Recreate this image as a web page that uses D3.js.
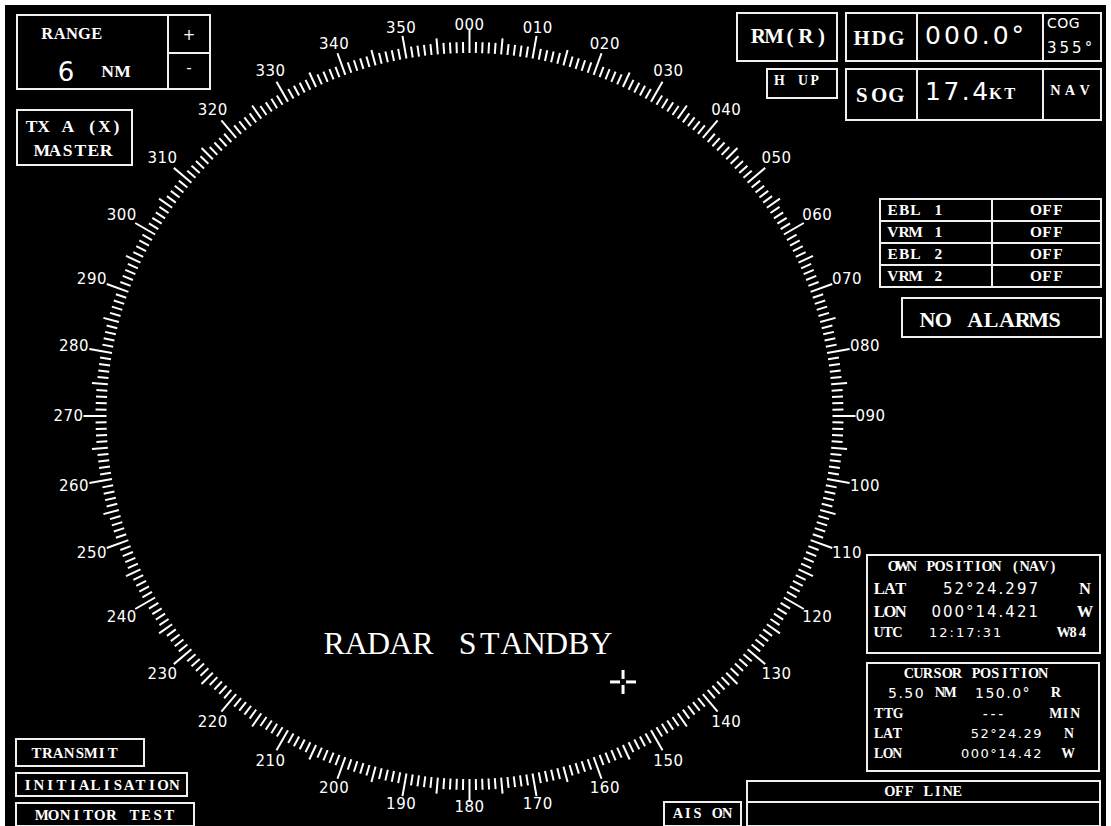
<!DOCTYPE html>
<html>
<head>
<meta charset="utf-8">
<title>Radar standby</title>
<script src="https://d3js.org/d3.v7.min.js"></script>
<style>
  body { margin: 0; background: #fff; }
  .box { fill: none; stroke: #f0f0f0; stroke-width: 2; }
  .lbl { fill: #fff; font-family: "Liberation Serif", serif; font-weight: bold; }
  .num { fill: #fff; font-family: "DejaVu Sans", sans-serif; }
</style>
</head>
<body>
<script>
// ---- data ----
var rangeNM = 6;
var bearings = d3.range(0, 360, 1);
var labelBearings = d3.range(0, 360, 10);
var eblNames = ["EBL 1", "VRM 1", "EBL 2", "VRM 2"];
var eblStates = ["OFF", "OFF", "OFF", "OFF"];
var cursor = {range: 5.5, bearing: 150};
var ownLat = "52°24.297", ownLon = "000°14.421", utc = "12:17:31";
var curLat = "52°24.29", curLon = "000°14.42";
var hdg = "000.0°", cog = "355°", sog = "17.4";
var leftButtons = ["TRANSMIT", "INITIALISATION", "MONITOR TEST"];

var width = 1111, height = 826;
var svg = d3.select("body").append("svg")
  .attr("width", width).attr("height", height);

svg.append("rect").attr("x", 5).attr("y", 5)
  .attr("width", width - 10).attr("height", height - 5).attr("fill", "#000");

function box(x, y, w, h) {
  return svg.append("rect").attr("class", "box")
    .attr("x", x).attr("y", y).attr("width", w).attr("height", h);
}
function line(x1, y1, x2, y2) {
  svg.append("line").attr("x1", x1).attr("y1", y1).attr("x2", x2).attr("y2", y2)
    .attr("stroke", "#f0f0f0").attr("stroke-width", 2);
}
function txt(x, y, s, cls, size, anchor, ls) {
  return svg.append("text").attr("class", cls)
    .attr("x", x).attr("y", y)
    .attr("font-size", size)
    .attr("text-anchor", anchor || "start")
    .attr("letter-spacing", ls || 0)
    .text(s);
}
// courier-like label: every glyph centred in a fixed-width cell
var lblScale = 1.1;
function lbl(x, y, s, size, anchor, w) {
  var n = s.length, cell = (w || size * 0.62 * n) / n;
  var left = anchor === "middle" ? x - cell * n / 2 : (anchor === "end" ? x - cell * n : x);
  var xs = d3.range(n).map(function(i) { return (left + cell * (i + 0.5)).toFixed(1); });
  return svg.append("text").attr("class", "lbl")
    .attr("x", xs.join(" ")).attr("y", y)
    .attr("font-size", size * lblScale)
    .attr("text-anchor", "middle")
    .text(s);
}

// ---- bearing ring ----
var cx = 469.5, cy = 416, rIn = 363;
var ang = d3.scaleLinear().domain([0, 360]).range([0, 2 * Math.PI]);
var rad = d3.scaleLinear().domain([0, rangeNM]).range([0, 335]);

function tickLen(b) { return b % 10 === 0 ? 23 : (b % 5 === 0 ? 16 : 11); }

svg.append("g").selectAll("line")
  .data(bearings)
  .enter().append("line")
  .attr("x1", function(d) { return cx + rIn * Math.sin(ang(d)); })
  .attr("y1", function(d) { return cy - rIn * Math.cos(ang(d)); })
  .attr("x2", function(d) { return cx + (rIn + tickLen(d)) * Math.sin(ang(d)); })
  .attr("y2", function(d) { return cy - (rIn + tickLen(d)) * Math.cos(ang(d)); })
  .attr("stroke", "#fff")
  .attr("stroke-width", 2);

svg.append("g").selectAll("text")
  .data(labelBearings)
  .enter().append("text")
  .attr("class", "num")
  .attr("font-size", 15)
  .attr("letter-spacing", 0.5)
  .attr("text-anchor", "middle")
  .attr("dominant-baseline", "central")
  .attr("x", function(d) {
    var a = ang(d), r = 386 + 15 * Math.abs(Math.sin(a)) + 5 * Math.abs(Math.cos(a));
    return cx + r * Math.sin(a);
  })
  .attr("y", function(d) {
    var a = ang(d), r = 386 + 15 * Math.abs(Math.sin(a)) + 5 * Math.abs(Math.cos(a));
    return cy - r * Math.cos(a);
  })
  .text(function(d) { return d3.format("03d")(d); });

// ---- cursor ----
var cpx = cx + rad(cursor.range) * Math.sin(ang(cursor.bearing));
var cpy = cy - rad(cursor.range) * Math.cos(ang(cursor.bearing));
var cur = svg.append("g").attr("transform", "translate(" + cpx + "," + cpy + ")");
[[-13, 0, -3, 0], [3, 0, 13, 0], [0, -12, 0, -3], [0, 3, 0, 12]].forEach(function(s) {
  cur.append("line").attr("x1", s[0]).attr("y1", s[1]).attr("x2", s[2]).attr("y2", s[3])
    .attr("stroke", "#fff").attr("stroke-width", 3);
});

lbl(323, 654, "RADAR STANDBY", 29, "start", 289).style("font-weight", "normal");

// ---- range ----
box(17, 15, 193, 74);
line(168, 15, 168, 89);
line(168, 53, 210, 53);
lbl(72, 39, "RANGE", 15, "middle", 62);
txt(66, 81, rangeNM, "num", 26, "middle");
lbl(115, 77, "NM", 16, "middle", 30);
txt(189, 40, "+", "num", 15, "middle");
txt(189, 73, "-", "num", 15, "middle");

box(17, 110, 115, 55);
lbl(74, 132, "TX A (X)", 16, "middle", 97);
lbl(74, 156, "MASTER", 16, "middle", 77);

// ---- top right ----
box(737, 13, 100, 48);
lbl(790, 43, "RM(R)", 19, "middle", 79);
box(767, 69, 70, 29);
lbl(797, 85, "H UP", 12.5, "middle", 47);

box(846, 13, 255, 48);
line(917, 13, 917, 61); line(1043, 13, 1043, 61);
lbl(879, 45, "HDG", 19, "middle", 52);
txt(925, 44, hdg, "num", 25, "start", 3);
txt(1047, 28, "COG", "num", 14, "start", 0.5);
txt(1047, 53, cog, "num", 15, "start", 3);

box(846, 69, 255, 51);
line(917, 69, 917, 120); line(1043, 69, 1043, 120);
lbl(879, 102, "SOG", 19, "middle", 52);
txt(925, 100, sog, "num", 25, "start", 2.5);
lbl(988, 99, "KT", 15, "start", 29);
lbl(1070, 95, "NAV", 13, "middle", 44);

// ---- EBL / VRM ----
var rowY = d3.scaleBand().domain(d3.range(eblNames.length)).range([199, 287]);
box(880, 199, 221, 88);
line(992, 199, 992, 287);
eblNames.forEach(function(n, i) {
  if (i > 0) line(880, rowY(i), 1101, rowY(i));
  lbl(887, rowY(i) + 16, n, 14, "start", 57);
  lbl(1047, rowY(i) + 16, eblStates[i], 14, "middle", 33);
});

box(902, 298, 199, 39);
lbl(991, 327, "NO ALARMS", 20, "middle", 143);

// ---- own position ----
box(867, 555, 233, 98);
lbl(973, 571, "OWN POSITION (NAV)", 13, "middle", 169);
lbl(874, 594, "LAT", 15, "start", 32);
txt(1040, 594, ownLat, "num", 15, "end", 2);
lbl(1085, 594, "N", 15, "middle", 10);
lbl(874, 617, "LON", 15, "start", 32);
txt(1040, 617, ownLon, "num", 15, "end", 2);
lbl(1085, 617, "W", 15, "middle", 10);
lbl(874, 637, "UTC", 13, "start", 28);
txt(929, 637, utc, "num", 13, "start", 2);
lbl(1073, 637, "W84", 13, "middle", 28);

// ---- cursor position ----
box(867, 663, 232, 108);
lbl(976, 678, "CURSOR POSITION", 13, "middle", 144);
txt(888, 698, d3.format(".2f")(cursor.range), "num", 14, "start", 1.5);
lbl(945, 697, "NM", 13, "middle", 20);
txt(975, 698, d3.format(".1f")(cursor.bearing) + "°", "num", 14, "start", 1.5);
lbl(1056, 697, "R", 13, "middle", 9);
lbl(874, 718, "TTG", 12.5, "start", 29);
lbl(993, 718, "---", 12.5, "middle", 23);
lbl(1080, 718, "MIN", 12.5, "end", 29);
lbl(874, 738, "LAT", 12.5, "start", 28);
txt(1043, 738, curLat, "num", 13, "end", 1.5);
lbl(1069, 738, "N", 12.5, "middle", 9);
lbl(874, 758, "LON", 12.5, "start", 28);
txt(1043, 758, curLon, "num", 13, "end", 1.5);
lbl(1068, 758, "W", 12.5, "middle", 9);

// ---- bottom left buttons ----
var btnBox = [[16, 739, 128, 27], [16, 773, 171, 23], [16, 803, 178, 23]];
var btnTx = [[74.5, 87], [101, 158], [105.5, 139]];
leftButtons.forEach(function(b, i) {
  var r = btnBox[i];
  box(r[0], r[1], r[2], r[3]);
  lbl(btnTx[i][0], r[1] + r[3] / 2 + 5, b, 13.5, "middle", btnTx[i][1]);
});

// ---- bottom right ----
box(664, 802, 77, 24);
lbl(702.5, 818, "AIS ON", 13, "middle", 59);
box(747, 781, 353, 45);
line(747, 802, 1100, 802);
lbl(923.5, 796, "OFF LINE", 13, "middle", 77);
</script>
</body>
</html>
